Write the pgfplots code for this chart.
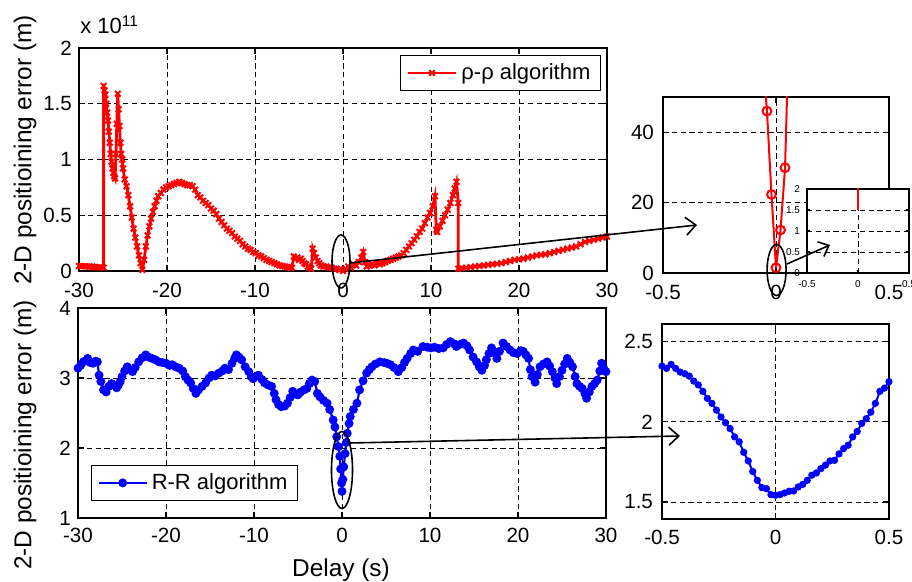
\documentclass[border=0pt]{standalone}
\usepackage{fontspec}
\setmainfont{Liberation Sans}
\usepackage{pgfplots}
\pgfplotsset{compat=1.18}
\usetikzlibrary{arrows.meta}
\newcommand\tfs{\fontsize{10.3}{12}\selectfont}
\newcommand\gfs{\fontsize{11}{13}\selectfont}
\newcommand\lfs{\fontsize{12.2}{14}\selectfont}
\pgfplotsset{
  mylegend/.style={legend image code/.code={\draw[mark repeat=2,mark phase=2,##1] plot coordinates {(0pt,0pt) (12pt,0pt) (24pt,0pt)};}},
  mstyle/.style={
    scale only axis,
    anchor=south west,
    axis line style={line width=0.9pt},
    every tick/.style={black, line width=0.6pt},
    major tick length=3pt,
    tick align=inside,
    grid=major,
    grid style={black, line width=0.45pt, dash pattern=on 2.6pt off 1.8pt},
    /pgf/number format/assume math mode=true,
    tick label style={font=\tfs},
    legend style={font=\gfs, draw=black, line width=0.6pt, inner xsep=3pt, inner ysep=2pt},
    legend cell align=left,
  },
}
\begin{document}
\begin{tikzpicture}
\useasboundingbox (0,0) rectangle (456pt,291pt);
% ---------------- top main axis
\begin{axis}[mstyle, at={(39.5pt,155.5pt)}, width=264pt, height=111.5pt,
  xmin=-30, xmax=30, ymin=0, ymax=2,
  xtick={-30,-20,...,30}, ytick={0,0.5,1,1.5,2},
  xticklabel style={yshift=-2.6pt},
  legend style={at={(0.9886,0.9686)}, anchor=north east}]
\addplot[mylegend, red, line width=1.4pt, mark=x, mark size=2pt, mark options={line width=1pt}] coordinates {
(-30,0.045) (-29.7,0.044) (-29.4,0.043) (-29.1,0.041) (-28.8,0.040) (-28.5,0.038) (-28.2,0.036) (-27.9,0.034) (-27.6,0.032) (-27.2,0.03)
(-27.2,1.66) (-27.1,1.62) (-27.0,1.58) (-26.9,1.50) (-26.8,1.42) (-26.7,1.35) (-26.6,1.25) (-26.5,1.15) (-26.4,1.05) (-26.3,0.98)
(-26.2,0.92) (-26.1,0.88) (-26.0,0.85) (-25.9,0.83) (-25.8,1.05) (-25.7,1.32) (-25.6,1.59) (-25.5,1.45) (-25.4,1.30) (-25.3,1.15)
(-25.2,1.05) (-25.1,1.00) (-25.0,0.92) (-24.8,0.82) (-24.6,0.76) (-24.4,0.68) (-24.2,0.58) (-24.0,0.48) (-23.8,0.38) (-23.6,0.30)
(-23.4,0.22) (-23.2,0.14) (-23.0,0.07) (-22.8,0.01) (-22.6,0.10) (-22.4,0.22) (-22.2,0.32) (-22.0,0.40) (-21.8,0.47) (-21.6,0.53)
(-21.4,0.58) (-21.2,0.63) (-21.0,0.67) (-20.7,0.70) (-20.4,0.73) (-20.1,0.75) (-19.8,0.76) (-19.5,0.77) (-19.2,0.78) (-18.9,0.79)
(-18.6,0.80) (-18.3,0.79) (-18.0,0.78) (-17.7,0.77) (-17.4,0.77) (-17.1,0.76) (-16.8,0.73) (-16.5,0.68) (-16.2,0.66) (-15.9,0.63)
(-15.6,0.61) (-15.3,0.59) (-15.0,0.56) (-14.7,0.54) (-14.4,0.51) (-14.1,0.47) (-13.8,0.44) (-13.5,0.41) (-13.2,0.38) (-12.9,0.36)
(-12.6,0.34) (-12.3,0.31) (-12.0,0.29) (-11.7,0.27) (-11.4,0.24) (-11.1,0.22) (-10.8,0.20) (-10.5,0.19) (-10.2,0.17) (-9.9,0.16)
(-9.6,0.14) (-9.3,0.13) (-9.0,0.115) (-8.7,0.10) (-8.4,0.09) (-8.1,0.08) (-7.8,0.07) (-7.5,0.06) (-7.2,0.05) (-6.9,0.045)
(-6.6,0.04) (-6.3,0.035) (-6.0,0.03) (-5.8,0.03) (-5.6,0.13) (-5.4,0.11) (-5.2,0.12) (-5.0,0.10) (-4.8,0.11) (-4.6,0.09)
(-4.4,0.07) (-4.2,0.06) (-4.0,0.04) (-3.8,0.03) (-3.6,0.02) (-3.45,0.20) (-3.3,0.16) (-3.1,0.12) (-2.9,0.09) (-2.7,0.07)
(-2.5,0.05) (-2.2,0.04) (-1.9,0.04) (-1.6,0.03) (-1.3,0.03) (-1.0,0.02) (-0.7,0.02) (-0.4,0.01) (0,0.0) (0.3,0.02)
(0.6,0.04) (0.9,0.03) (1.2,0.06) (1.5,0.05) (1.8,0.08) (2.1,0.12) (2.3,0.17) (2.5,0.08) (2.7,0.04) (3.0,0.05)
(3.3,0.06) (3.6,0.05) (3.9,0.07) (4.2,0.06) (4.5,0.07) (4.8,0.08) (5.1,0.09) (5.4,0.10) (5.7,0.11) (6.0,0.12)
(6.3,0.13) (6.6,0.14) (6.9,0.16) (7.2,0.19) (7.5,0.22) (7.8,0.25) (8.1,0.28) (8.4,0.31) (8.7,0.35) (9.0,0.38)
(9.3,0.43) (9.6,0.48) (9.9,0.52) (10.2,0.58) (10.45,0.67) (10.6,0.37) (10.7,0.35) (11.0,0.40) (11.3,0.45) (11.6,0.50)
(11.9,0.55) (12.2,0.61) (12.5,0.68) (12.7,0.74) (12.9,0.80) (13.1,0.61) (13.1,0.02) (13.5,0.025) (14.0,0.03) (14.5,0.035)
(15.0,0.04) (15.5,0.045) (16.0,0.05) (16.5,0.055) (17.0,0.06) (17.5,0.065) (18.0,0.07) (18.5,0.08) (19.0,0.09) (19.5,0.10)
(20.0,0.105) (20.5,0.11) (21.0,0.12) (21.5,0.13) (22.0,0.14) (22.5,0.145) (23.0,0.15) (23.5,0.16) (24.0,0.17) (24.5,0.18)
(25.0,0.19) (25.5,0.20) (26.0,0.21) (26.5,0.22) (27.0,0.24) (27.5,0.26) (28.0,0.27) (28.5,0.28) (29.0,0.29) (29.5,0.30) (30,0.31)
};
\addlegendentry{ρ-ρ algorithm}
\end{axis}
% ---------------- bottom main axis
\begin{axis}[mstyle, at={(39pt,32pt)}, width=264pt, height=105pt,
  xmin=-30, xmax=30, ymin=1, ymax=4,
  xtick={-30,-20,...,30}, ytick={1,2,3,4},
  xticklabel style={yshift=-1.6pt},
  legend style={at={(0.0246,0.081)}, anchor=south west}]
\addplot[mylegend, blue, line width=1.1pt, mark=*, mark size=1.65pt] coordinates {
(-30,3.14) (-29.7,3.18) (-29.4,3.23) (-29.1,3.25) (-28.9,3.28) (-28.6,3.22) (-28.3,3.21) (-28.0,3.24) (-27.8,3.23) (-27.6,3.04)
(-27.4,2.95) (-27.1,2.83) (-26.8,2.80) (-26.5,2.88) (-26.2,2.92) (-25.9,2.90) (-25.6,2.86) (-25.4,2.90) (-25.2,2.95) (-25.0,3.02)
(-24.7,3.10) (-24.4,3.16) (-24.1,3.12) (-23.8,3.09) (-23.5,3.15) (-23.1,3.23) (-22.7,3.29) (-22.3,3.33) (-22.0,3.30) (-21.6,3.28)
(-21.2,3.26) (-20.8,3.23) (-20.4,3.22) (-20.0,3.21) (-19.6,3.18) (-19.3,3.19) (-18.9,3.16) (-18.5,3.14) (-18.1,3.10) (-17.8,3.02)
(-17.5,2.97) (-17.2,2.93) (-16.9,2.85) (-16.6,2.78) (-16.3,2.83) (-15.9,2.88) (-15.5,2.93) (-15.1,3.00) (-14.8,3.04) (-14.4,3.03)
(-14.0,3.07) (-13.6,3.10) (-13.3,3.14) (-12.9,3.12) (-12.5,3.21) (-12.2,3.28) (-12.0,3.33) (-11.7,3.30) (-11.4,3.26) (-11.0,3.16)
(-10.6,3.09) (-10.3,3.02) (-10.1,2.99) (-9.8,3.02) (-9.5,3.04) (-9.1,2.98) (-8.8,2.93) (-8.4,2.90) (-8.0,2.88) (-7.7,2.78)
(-7.5,2.69) (-7.2,2.62) (-6.9,2.59) (-6.5,2.60) (-6.2,2.64) (-5.9,2.72) (-5.6,2.81) (-5.3,2.77) (-5.0,2.76) (-4.7,2.80)
(-4.3,2.83) (-4.0,2.85) (-3.7,2.92) (-3.4,2.97) (-3.1,2.95) (-2.8,2.78) (-2.5,2.73) (-2.1,2.68) (-1.7,2.64) (-1.4,2.55)
(-1.0,2.40) (-0.8,2.30) (-0.6,2.16) (-0.4,2.02) (-0.25,1.88) (-0.15,1.70) (-0.05,1.50) (0,1.38) (0.1,1.55) (0.2,1.73)
(0.35,1.92) (0.5,2.08) (0.6,2.21) (0.8,2.35) (0.94,2.45) (1.3,2.55) (1.7,2.64) (2.0,2.83) (2.4,2.96) (2.8,3.07)
(3.1,3.12) (3.4,3.16) (3.8,3.20) (4.3,3.23) (4.8,3.22) (5.1,3.21) (5.5,3.19) (5.9,3.15) (6.4,3.09) (6.8,3.15)
(7.1,3.22) (7.4,3.28) (7.8,3.35) (8.1,3.40) (8.6,3.38) (9.2,3.45) (9.7,3.44) (10.1,3.43) (10.5,3.44) (11.0,3.42)
(11.5,3.43) (11.9,3.48) (12.3,3.52) (12.7,3.49) (13.0,3.45) (13.4,3.48) (13.8,3.50) (14.2,3.46) (14.5,3.40) (14.9,3.30)
(15.3,3.23) (15.6,3.16) (15.9,3.11) (16.2,3.18) (16.4,3.26) (16.7,3.35) (17.0,3.43) (17.3,3.36) (17.6,3.28) (17.9,3.38)
(18.3,3.50) (18.7,3.45) (19.1,3.40) (19.5,3.36) (19.9,3.35) (20.3,3.39) (20.6,3.38) (20.9,3.33) (21.2,3.28) (21.4,3.12)
(21.6,3.02) (21.95,2.94) (22.2,3.05) (22.5,3.16) (22.9,3.20) (23.3,3.23) (23.6,3.17) (23.9,3.09) (24.2,3.00) (24.4,2.92)
(24.7,3.02) (25.0,3.11) (25.3,3.20) (25.6,3.28) (25.9,3.22) (26.2,3.16) (26.5,3.02) (26.7,2.92) (27.0,2.88) (27.3,2.85)
(27.6,2.78) (27.8,2.71) (28.1,2.80) (28.4,2.88) (28.7,2.92) (29.0,2.97) (29.3,3.10) (29.5,3.21) (29.7,3.15) (30.0,3.09)
};
\addlegendentry{R-R algorithm}
\end{axis}
% ---------------- top right zoom
\begin{axis}[mstyle, at={(331.5pt,154.5pt)}, width=113pt, height=88pt,
  xmin=-0.5, xmax=0.5, ymin=0, ymax=50,
  xtick={-0.5,0,0.5}, ytick={0,20,40},
  xticklabel style={yshift=-2.6pt}, yticklabel style={xshift=-1pt}]
\addplot[red, line width=1pt, mark=o, mark size=2.2pt] coordinates {
(-0.06,63) (-0.04,46) (-0.02,22.3) (0,1.5) (0.02,12.2) (0.04,29.9) (0.06,76)
};
\end{axis}
% ---------------- inset
\begin{axis}[mstyle, at={(403.5pt,154.5pt)}, width=51pt, height=42pt,
  axis background/.style={fill=white},
  xmin=-0.5, xmax=0.5, ymin=0, ymax=2,
  xtick={-0.5,0,0.5}, ytick={0,0.5,1,1.5,2},
  major tick length=1.5pt,
  tick label style={font=\fontsize{5}{6}\selectfont},
  xticklabel style={yshift=-0.3pt}, axis line style={line width=0.8pt}]
\addplot[red, line width=0.9pt] coordinates {
(-0.06,63) (-0.04,46) (-0.02,22.3) (0,1.5) (0.02,12.2) (0.04,29.9) (0.06,76)
};
\end{axis}
% ---------------- bottom right zoom
\begin{axis}[mstyle, at={(331pt,31.5pt)}, width=113.5pt, height=97.5pt,
  xmin=-0.5, xmax=0.5, ymin=1.394, ymax=2.61,
  xtick={-0.5,0,0.5}, ytick={1.5,2,2.5},
  xticklabel style={yshift=-2pt}, yticklabel style={xshift=-1pt}]
\addplot[blue, line width=1pt, mark=*, mark size=1.3pt] coordinates {
(-0.50,2.348) (-0.48,2.333) (-0.46,2.358) (-0.44,2.333) (-0.42,2.31) (-0.40,2.30) (-0.38,2.285) (-0.36,2.254) (-0.34,2.23) (-0.32,2.19)
(-0.30,2.146) (-0.28,2.115) (-0.26,2.073) (-0.24,2.03) (-0.22,1.994) (-0.20,1.958) (-0.18,1.906) (-0.16,1.875) (-0.14,1.81) (-0.12,1.756)
(-0.10,1.69) (-0.08,1.635) (-0.06,1.59) (-0.04,1.583) (-0.02,1.546) (0,1.542) (0.02,1.546) (0.04,1.556) (0.06,1.567) (0.08,1.569)
(0.10,1.594) (0.12,1.61) (0.14,1.635) (0.16,1.667) (0.18,1.681) (0.20,1.708) (0.22,1.73) (0.24,1.756) (0.26,1.76) (0.28,1.80)
(0.30,1.833) (0.32,1.854) (0.34,1.906) (0.36,1.94) (0.38,1.99) (0.40,2.02) (0.42,2.06) (0.44,2.115) (0.46,2.19) (0.48,2.21) (0.50,2.25)
};
\end{axis}
% ---------------- annotations
\draw[line width=0.8pt] (170.5pt,160.25pt) ellipse [x radius=4.5pt, y radius=13.25pt];
\draw[line width=0.8pt] (171pt,56pt) ellipse [x radius=5.25pt, y radius=19.25pt];
\draw[line width=0.8pt] (388.3pt,156pt) ellipse [x radius=4.75pt, y radius=12.75pt];
\draw[line width=0.8pt, -{Straight Barb[length=5pt,width=9pt]}] (175pt,159.5pt) -- (348.5pt,178.5pt);
\draw[line width=0.8pt, -{Straight Barb[length=5pt,width=9pt]}] (175pt,69.5pt) -- (340pt,73pt);
\draw[line width=0.8pt, -{Straight Barb[length=4.5pt,width=8pt]}] (393.5pt,159pt) -- (415pt,168.5pt);
% ---------------- labels
\node[rotate=90, font=\lfs] at (12.5pt,216pt) {2-D positioining error (m)};
\node[rotate=90, font=\lfs] at (12.5pt,73.5pt) {2-D positioining error (m)};
\node[anchor=base, font=\lfs, inner sep=0pt] at (170.5pt,2.5pt) {Delay (s)};
\node[anchor=base west, font=\fontsize{11}{13}\selectfont, inner sep=0pt] at (40pt,274pt) {x 10\textsuperscript{11}};
\end{tikzpicture}
\end{document}
